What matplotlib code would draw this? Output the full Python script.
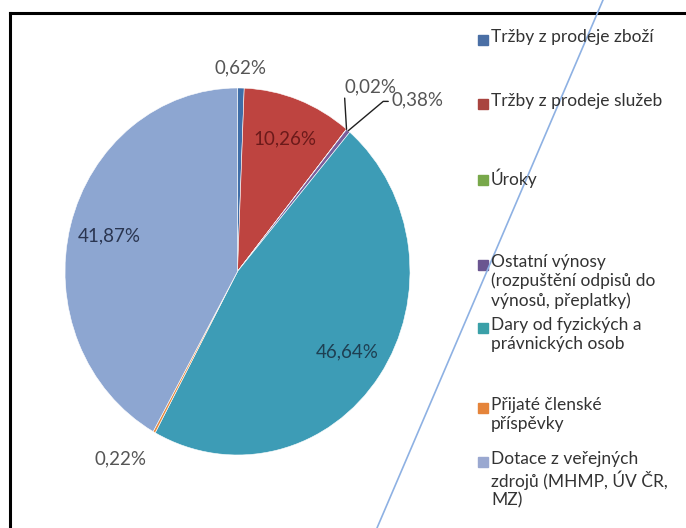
import numpy as np
import matplotlib.pyplot as plt
from matplotlib.lines import Line2D
from matplotlib.patches import Rectangle

# data (share of revenue, %)
categories = ['Tržby z prodeje zboží',
              'Tržby z prodeje služeb',
              'Úroky',
              'Ostatní výnosy\n(rozpuštění odpisů do\nvýnosů, přeplatky)',
              'Dary od fyzických a\nprávnických osob',
              'Přijaté členské\npříspěvky',
              'Dotace z veřejných\nzdrojů (MHMP, ÚV ČR,\nMZ)']
values = [0.62, 10.26, 0.02, 0.38, 46.64, 0.22, 41.87]

slice_colors = ['#3F6EA8', '#BE4440', '#8DB356', '#7A5E9C', '#3D9CB6', '#E88A40', '#8DA6D1']
legend_colors = ['#4A6FA5', '#A9443F', '#78A84A', '#6A5590', '#3AA0A8', '#E5843A', '#9AA8D0']
label_colors = ['#555555', '#6B1A1A', '#555555', '#555555', '#1E3F52', '#555555', '#2A3550']

plt.rcParams['font.family'] = ['Lato', 'DejaVu Sans']

fig = plt.figure(figsize=(6.86, 5.28), dpi=100)
W, H = 686.0, 528.0

# chart frame (only top and left edge visible in the scan)
fig.add_artist(Line2D([10 / W, 1], [1 - 13 / H, 1 - 13 / H], color='black', lw=2.2, transform=fig.transFigure))
fig.add_artist(Line2D([10 / W, 10 / W], [1 - 13 / H, 0], color='black', lw=2.2, transform=fig.transFigure))

# pie (slightly squashed like the scan)
ax = fig.add_axes([65 / W, 1 - 455 / H, 345 / W, 367 / H])
wedges, _ = ax.pie(values, colors=slice_colors, startangle=90, counterclock=False,
                   wedgeprops=dict(edgecolor='white', linewidth=0.4))
ax.set_aspect('auto')
ax.set_xlim(-1, 1)
ax.set_ylim(-1, 1)
ax.axis('off')

labels = [f'{v:.2f}'.replace('.', ',') + '%' for v in values]
mids = [np.deg2rad((w.theta1 + w.theta2) / 2) for w in wedges]
fs = 13.5

# big slices: label inside
for i in [1, 4, 6]:
    ax.text(0.77 * np.cos(mids[i]), 0.77 * np.sin(mids[i]), labels[i], ha='center', va='center',
            fontsize=fs, color=label_colors[i])

# small slices: outside
ax.text(1.02 * np.cos(mids[0]), 1.11 * np.sin(mids[0]), labels[0], ha='center', va='center',
        fontsize=fs, color=label_colors[0])
ax.text(-0.68, -1.02, labels[5], ha='center', va='center', fontsize=fs, color=label_colors[5])

for i, txt_xy, rel, cs in [(2, (0.62, 0.96), (0.0, 0.05), 'arc3'),
                           (3, (0.89, 0.89), (0.0, 0.4), 'angle,angleA=0,angleB=40,rad=0')]:
    edge = (np.cos(mids[i]), np.sin(mids[i]))
    ax.annotate(labels[i], xy=edge, xytext=txt_xy, ha='left', va='bottom', fontsize=fs,
                color=label_colors[i],
                arrowprops=dict(arrowstyle='-', color='#202020', lw=1.0, shrinkA=0, shrinkB=0,
                                relpos=rel, connectionstyle=cs))

# legend drawn by hand (Excel wraps its entries)
legend_y = [40, 104, 180, 265, 328, 408, 462]
for name, col, y in zip(categories, legend_colors, legend_y):
    fig.add_artist(Rectangle((478 / W, 1 - (y + 5) / H), 10 / W, 10 / H, color=col,
                             transform=fig.transFigure))
    fig.text(491 / W, 1 - (y - 11) / H, name, ha='left', va='top', fontsize=12.5,
             color='#333333', linespacing=1.2)

# stray pen line across the scan
fig.add_artist(Line2D([603 / W, 377 / W], [1, 0], color='#8EB1E3', lw=1.2, transform=fig.transFigure))

fig.savefig('out.png', dpi=100, facecolor='white')
